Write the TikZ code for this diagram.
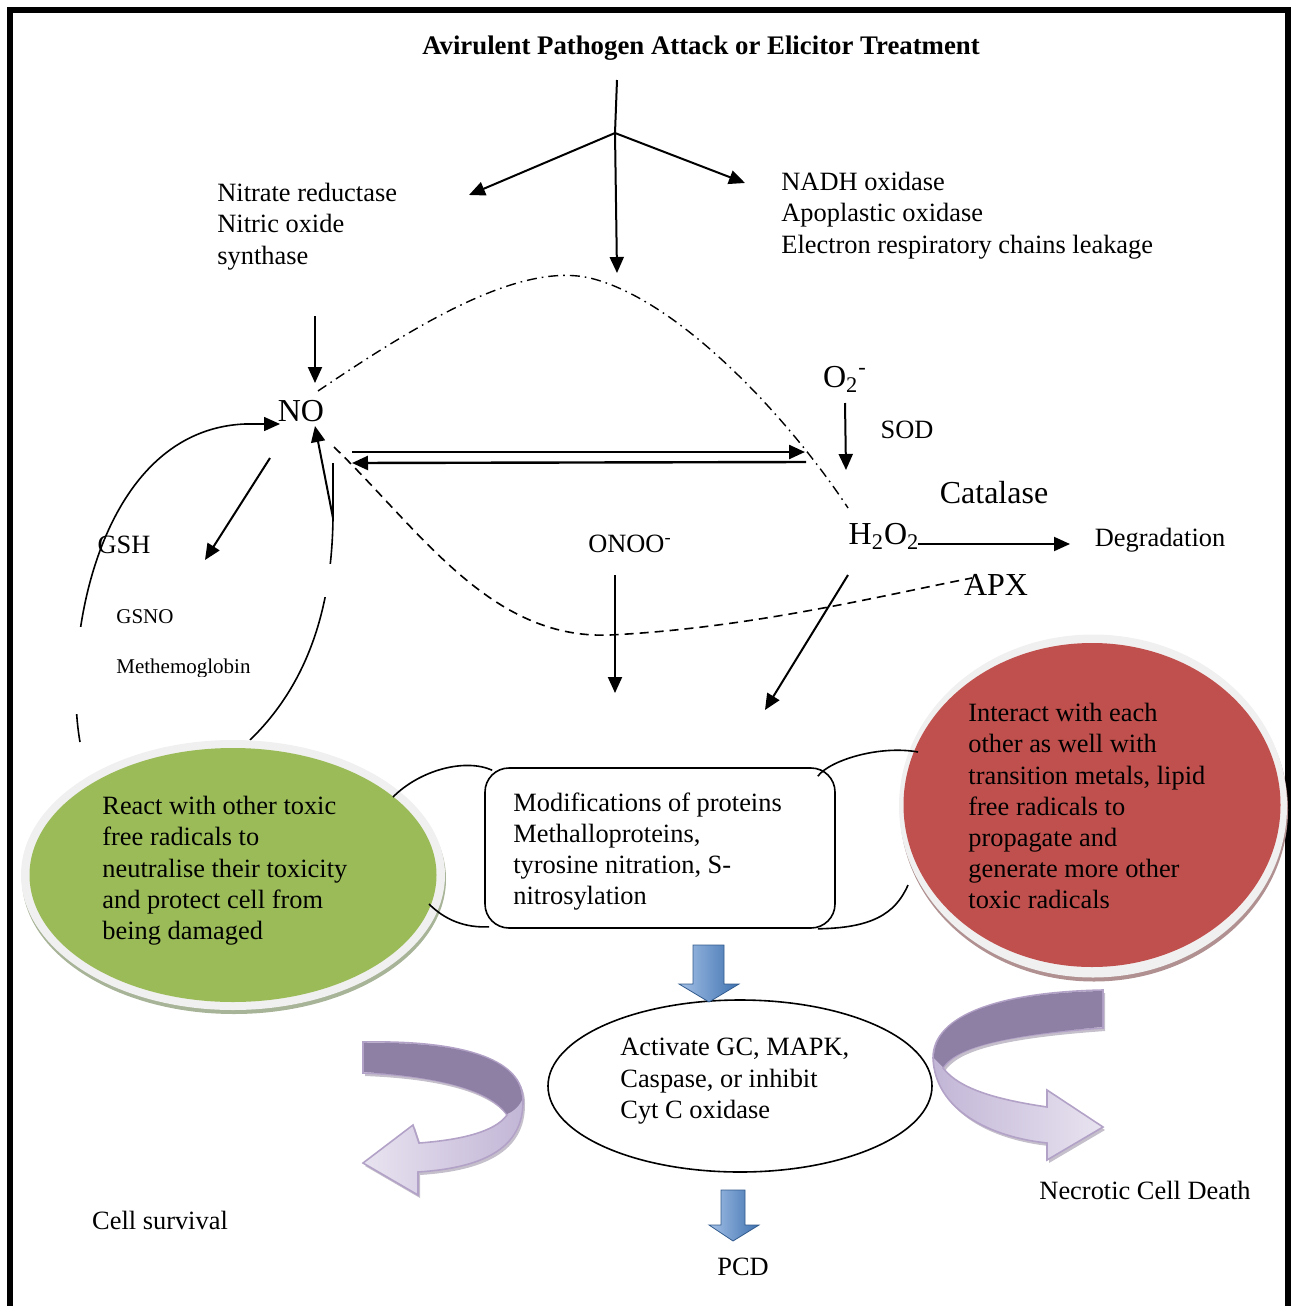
\documentclass[tikz,border=0pt]{standalone}
\usepackage{fontspec}
\setmainfont{Liberation Serif}
\usetikzlibrary{arrows.meta,shapes.geometric,calc}

\definecolor{leafgreen}{HTML}{9BBB59}
\definecolor{leafshadow}{HTML}{A8B497}
\definecolor{brick}{HTML}{C0504D}
\definecolor{brickshadow}{HTML}{B09090}
\definecolor{ringgrey}{HTML}{F0F0F0}
\definecolor{lilacdark}{HTML}{8E80A4}
\definecolor{lilaclight}{HTML}{E8E3F0}
\definecolor{lilacmid}{HTML}{C2B6D6}
\definecolor{lilacedge}{HTML}{B3A2C7}
\definecolor{lilacshadow}{HTML}{9E95A8}
\definecolor{bluelight}{HTML}{A3C0E6}
\definecolor{bluedark}{HTML}{3F72B0}

\tikzset{
  txt/.style={font=\fontsize{13.2}{15.6}\selectfont, inner sep=0pt, align=left},
  bigtxt/.style={font=\fontsize{16}{19}\selectfont, inner sep=0pt},
  smalltxt/.style={font=\fontsize{10.5}{12}\selectfont, inner sep=0pt},
  arr/.style={line width=1pt, -{Triangle[length=8pt,width=7pt]}},
  thinline/.style={line width=0.8pt},
  dashdot/.style={line width=0.7pt, dash pattern=on 5pt off 2.5pt on 0.8pt off 2.5pt},
  dashline/.style={line width=0.8pt, dash pattern=on 4.5pt off 3pt},
  lilacarrow/.style={draw=lilacedge, line width=0.8pt, shading=axis, left color=lilaclight, right color=lilacmid},
  bluearrow/.style={draw=bluedark!80!black, line width=0.4pt, shading=axis, left color=bluelight, right color=bluedark},
}

\begin{document}
\begin{tikzpicture}[x=0.5pt,y=-0.5pt]
\useasboundingbox (0,0) rectangle (1293,1306);

% outer frame
\begin{scope}
  \clip (0,0) rectangle (1293,1306);
  \draw[line width=3pt] (10,1330) -- (10,10) -- (1288,10) -- (1288,1330);
\end{scope}

% ---------- texts ----------
\node[txt, font=\fontsize{13.4}{15.6}\selectfont\bfseries] (title) at (701,48)
  {Avirulent Pathogen Attack or Elicitor Treatment};
\node[txt, anchor=north west] (nos) at (217,183)
  {Nitrate reductase\\Nitric oxide\\synthase};
\node[txt, anchor=north west] (nadh) at (781,172)
  {NADH oxidase\\Apoplastic oxidase\\Electron respiratory chains leakage};
\node[bigtxt] (no) at (301,411) {NO};
\node[bigtxt] (o2) at (845,379) {O\textsubscript{2}\textsuperscript{-}};
\node[txt] (sod) at (907,430) {SOD};
\node[bigtxt] (catalase) at (994,493) {Catalase};
\node[bigtxt] (h2o2) at (884,536) {H\textsubscript{2}O\textsubscript{2}};
\node[txt] (degradation) at (1160,540) {Degradation};
\node[bigtxt] (apx) at (996,585) {APX};
\node[txt] (onoo) at (630,544) {ONOO\textsuperscript{-}};
\node[txt] (gsh) at (124,545) {GSH};
\begin{scope}
  \clip (90,590) rectangle (330,676);
  \node[smalltxt, anchor=west] (gsno) at (116,617) {GSNO};
  \node[smalltxt, anchor=west] (methb) at (116,668) {Methemoglobin};
\end{scope}
\node[txt] (survival) at (160,1220) {Cell survival};
\node[txt] (necrotic) at (1145,1190) {Necrotic Cell Death};
\node[txt] (pcd) at (743,1267) {PCD};

% ---------- upper arrows ----------
\coordinate (split) at (615,133);
\coordinate (nosend) at (469,195);
\coordinate (nadhend) at (745,183);
\coordinate (midend) at (617,273);
\draw[line width=1pt] (617,80) -- (split);
\draw[arr] (split) -- (nosend);
\draw[arr] (split) -- (nadhend);
\draw[arr] (split) -- (midend);

\coordinate (nostart) at (315,316);
\coordinate (notop) at (315,383);
\draw[arr] (nostart) -- (notop);
\coordinate (o2end) at (846,470);
\draw[arr] (845,403) -- (o2end);

% NO <-> H2O2 exchange
\coordinate (exright) at (805,452);
\coordinate (exleft) at (352,463);
\draw[line width=1.2pt, -{Triangle[length=8pt,width=7pt]}] (352,452) -- (exright);
\draw[line width=1.2pt, -{Triangle[length=8pt,width=7pt]}] (806,462) -- (exleft);

% dash-dot link NO -> H2O2
\draw[dashdot] (318,391) .. controls (420,322) and (520,262) .. (590,278)
  .. controls (680,300) and (790,420) .. (848,508);
% dashed link NO -> APX
\draw[dashline] (334,447) .. controls (420,530) and (490,640) .. (610,635)
  .. controls (750,628) and (880,596) .. (972,578);

\coordinate (catstart) at (918,544);
\coordinate (catend) at (1070,544);
\draw[arr] (catstart) -- (catend);
\draw[arr] (615,575) -- (615,693);
\draw[arr] (848,575) -- (765,710);
\draw[arr] (270,458) -- (205,560);
\draw[arr] (333,518) -- (315,426);

% feedback loop around GSH / GSNO
\coordinate (loopend) at (280,424);
\begin{scope}
  \clip (0,0) rectangle (400,626);
  \draw[thinline, -{Triangle[length=8pt,width=7pt]}]
    (80,742) .. controls (62,640) and (100,430) .. (245,424) -- (loopend);
\end{scope}
\begin{scope}
  \clip (0,714) rectangle (200,760);
  \draw[thinline] (80,742) .. controls (62,640) and (100,430) .. (245,424);
\end{scope}
\begin{scope}
  \clip (300,440) rectangle (360,563);
  \draw[thinline] (333,463) -- (333,518) .. controls (332,600) and (312,680) .. (250,740);
\end{scope}
\begin{scope}
  \clip (200,597) rectangle (360,760);
  \draw[thinline] (333,463) -- (333,518) .. controls (332,600) and (312,680) .. (250,740);
\end{scope}

% ---------- green ellipse ----------
\fill[leafshadow] (234,879) ellipse [x radius=106pt, y radius=67.5pt];
\node[ellipse, fill=ringgrey, minimum width=424pt/2, minimum height=270pt/2, inner sep=0pt] (greenring) at (233,875) {};
\node[ellipse, fill=leafgreen, minimum width=407pt/2, minimum height=254pt/2, inner sep=0pt] (greenell) at (233,875) {};
\node[txt, anchor=north west] (greentext) at (102,796)
  {React with other toxic\\free radicals to\\neutralise their toxicity\\and protect cell from\\being damaged};

% ---------- red ellipse ----------
\fill[brickshadow] (1094,810) ellipse [x radius=97pt, y radius=85.75pt];
\node[ellipse, fill=ringgrey, minimum width=388pt/2, minimum height=343pt/2, inner sep=0pt] (redring) at (1093,806) {};
\node[ellipse, fill=brick, minimum width=377pt/2, minimum height=324pt/2, inner sep=0pt] (redell) at (1092,805) {};
\node[txt, anchor=north west] (redtext) at (968,703)
  {Interact with each\\other as well with\\transition metals, lipid\\free radicals to\\propagate and\\generate more other\\toxic radicals};

% ---------- central box ----------
\node[draw, line width=0.8pt, rounded corners=12pt, minimum width=175pt, minimum height=80pt, inner sep=0pt] (box) at (660,848) {};
\node[txt, anchor=north west] (boxtext) at (513,792)
  {Modifications of proteins\\Methalloproteins,\\tyrosine nitration, S-\\nitrosylation};

\coordinate (gtop) at (393,797);
\coordinate (gbot) at (429,904);
\coordinate (rtop) at (918,752);
\coordinate (rbot) at (908,885);
\draw[thinline] (gtop) .. controls (420,770) and (465,758) .. ($(box.north west)+(8,3)$);
\draw[thinline] (gbot) .. controls (445,920) and (465,928) .. ($(box.south west)+(5,-2)$);
\draw[thinline] ($(box.north east)+(-18,9)$) .. controls (830,760) and (880,745) .. (rtop);
\draw[thinline] (rbot) .. controls (895,915) and (870,928) .. ($(box.south east)+(-18,0)$);

% ---------- lower ellipse ----------
\node[draw, ellipse, line width=0.8pt, minimum width=192pt, minimum height=86pt, inner sep=0pt] (act) at (740,1086) {};
\node[txt, anchor=north west] (acttext) at (620,1038)
  {Activate GC, MAPK,\\Caspase, or inhibit\\Cyt C oxidase};

% ---------- block arrows ----------
\draw[bluearrow] (693,945) -- (724,945) -- (724,984) -- (739,984) -- (709,1002) -- (679,984) -- (693,984) -- cycle;
\draw[bluearrow] (721,1190) -- (745,1190) -- (745,1225) -- (759,1225) -- (733,1241) -- (709,1225) -- (721,1225) -- cycle;

% ---------- curved lilac arrows ----------
% towards cell survival
\fill[lilacshadow, opacity=0.6, xshift=1pt, yshift=-1.5pt]
  (363,1042) .. controls (470,1040) and (523,1062) .. (523,1100)
  .. controls (524,1150) and (480,1168) .. (418,1172)
  -- (418,1195) -- (363,1163) -- (413,1125) -- (419,1143)
  .. controls (460,1140) and (495,1132) .. (507,1115)
  .. controls (490,1090) and (440,1076) .. (363,1073) -- cycle;
\draw[lilacarrow]
  (363,1042) .. controls (470,1040) and (523,1062) .. (523,1100)
  .. controls (524,1150) and (480,1168) .. (418,1172)
  -- (418,1195) -- (363,1163) -- (413,1125) -- (419,1143)
  .. controls (460,1140) and (495,1132) .. (507,1115)
  .. controls (490,1090) and (440,1076) .. (363,1073) -- cycle;
\fill[lilacdark]
  (364,1043) .. controls (470,1041) and (522,1062) .. (522,1100)
  .. controls (518,1108) and (512,1112) .. (507,1114)
  .. controls (490,1090) and (440,1077) .. (364,1072) -- cycle;

% towards necrotic cell death
\fill[lilacshadow, opacity=0.6, xshift=1pt, yshift=-1.5pt]
  (1103,990) .. controls (1000,992) and (933,1015) .. (933,1058)
  .. controls (935,1110) and (990,1137) .. (1047,1143)
  -- (1047,1160) -- (1103,1127) -- (1047,1090) -- (1047,1107)
  .. controls (1000,1100) and (960,1090) .. (943,1068)
  .. controls (955,1050) and (990,1036) .. (1103,1028) -- cycle;
\draw[lilacarrow, left color=lilacmid, right color=lilaclight]
  (1103,990) .. controls (1000,992) and (933,1015) .. (933,1058)
  .. controls (935,1110) and (990,1137) .. (1047,1143)
  -- (1047,1160) -- (1103,1127) -- (1047,1090) -- (1047,1107)
  .. controls (1000,1100) and (960,1090) .. (943,1068)
  .. controls (955,1050) and (990,1036) .. (1103,1028) -- cycle;
\fill[lilacdark]
  (1102,991) .. controls (1000,993) and (934,1015) .. (934,1058)
  -- (943,1067)
  .. controls (955,1050) and (990,1037) .. (1102,1027) -- cycle;

\end{tikzpicture}
\end{document}
